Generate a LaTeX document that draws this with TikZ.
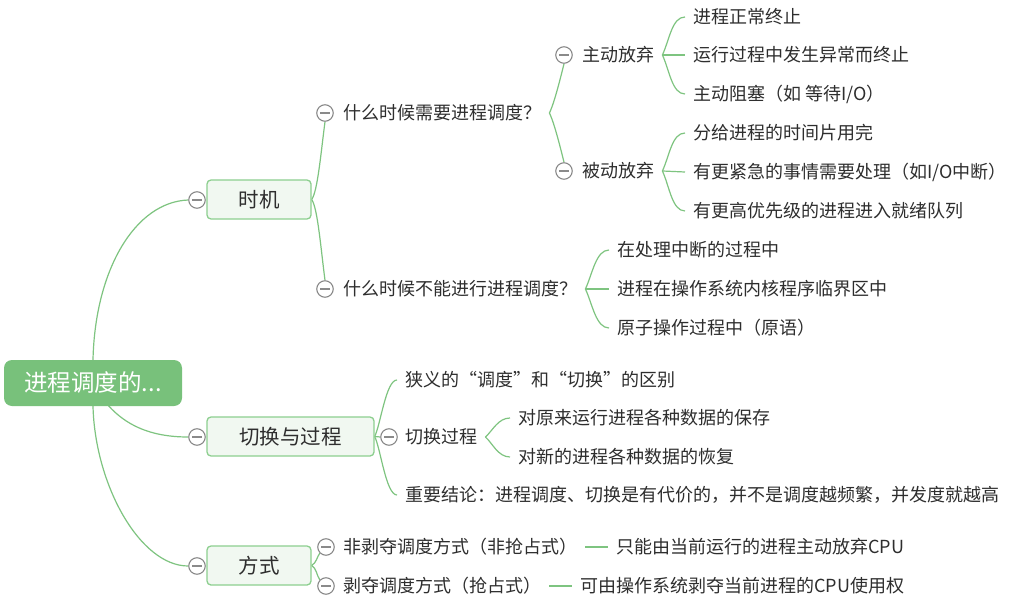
\documentclass[tikz,border=0pt]{standalone}
\usepackage{fontspec}
\setmainfont{Noto Sans CJK SC}
\usetikzlibrary{backgrounds}
\definecolor{rootg}{HTML}{78C17B}
\definecolor{lineg}{HTML}{7EC480}
\definecolor{boxf}{HTML}{F1F8F1}
\definecolor{boxd}{HTML}{8DCF8F}
\definecolor{cgray}{HTML}{8A8A8A}
\definecolor{txt}{HTML}{2E2E2E}
\newcommand{\cjklq}{\makebox[1em][r]{“}}
\newcommand{\cjkrq}{\makebox[1em][l]{”}}
\begin{document}
\begin{tikzpicture}[x=1pt,y=-1pt,
  conn/.style={draw=lineg, line width=1.2pt},
  rootbox/.style={rectangle, rounded corners=8pt, fill=rootg, text=white, font=\fontsize{23.5}{28}\selectfont, minimum width=178pt, minimum height=46pt, inner sep=0pt, text height=20.7pt, text depth=2.8pt},
  topicbox/.style={rectangle, rounded corners=4pt, fill=boxf, draw=boxd, line width=1.3pt, text=txt, font=\fontsize{20.5}{24}\selectfont, minimum height=39pt, inner sep=0pt, text height=18pt, text depth=2.5pt},
  lbl/.style={anchor=west, text=txt, font=\fontsize{18}{22}\selectfont, inner xsep=8pt, inner ysep=2pt, text height=15.84pt, text depth=2.16pt},
  fold/.style={circle, draw=cgray, line width=1.1pt, fill=white, minimum size=16.5pt, inner sep=0pt,
    path picture={\draw[cgray, line width=1.1pt] ([xshift=-5pt]path picture bounding box.center) -- ([xshift=5pt]path picture bounding box.center);}},
]
\useasboundingbox (0,0) rectangle (1012,607);

% root and main topics
\node[rootbox] (root) at (93,383) {进程调度的...};
\node[topicbox, minimum width=104pt] (t1) at (259,199.5) {时机};
\node[topicbox, minimum width=167pt] (t2) at (290.5,436.5) {切换与过程};
\node[topicbox, minimum width=104pt] (t3) at (259,565.5) {方式};
\node[fold] (c1) at (197,200) {};
\node[fold] (c2) at (197,437) {};
\node[fold] (c3) at (197,566) {};

% 时机
\node[fold] (cq1) at (325,113) {};
\node[lbl] (q1) at (335,113) {什么时候需要进程调度？};
\node[fold] (cq2) at (325,289) {};
\node[lbl] (q2) at (335,289) {什么时候不能进行进程调度？};
\node[fold] (czd) at (564,55) {};
\node[lbl] (zd) at (574,55) {主动放弃};
\node[fold] (cbd) at (564,171) {};
\node[lbl] (bd) at (574,171) {被动放弃};
\node[lbl] (a1) at (685,17) {进程正常终止};
\node[lbl] (a2) at (685,55) {运行过程中发生异常而终止};
\node[lbl] (a3) at (685,94) {主动阻塞（如 等待I/O）};
\node[lbl] (b1) at (685,133) {分给进程的时间片用完};
\node[lbl] (b2) at (685,172) {有更紧急的事情需要处理（如I/O中断）};
\node[lbl] (b3) at (685,211) {有更高优先级的进程进入就绪队列};
\node[lbl] (d1) at (609,250) {在处理中断的过程中};
\node[lbl] (d2) at (609,289) {进程在操作系统内核程序临界区中};
\node[lbl] (d3) at (609,328) {原子操作过程中（原语）};

% 切换与过程
\node[lbl] (x1) at (397,380) {狭义的\cjklq 调度\cjkrq 和\cjklq 切换\cjkrq 的区别};
\node[fold] (cqh) at (389,437) {};
\node[lbl] (qh) at (397,437) {切换过程};
\node[lbl] (s1) at (510,418) {对原来运行进程各种数据的保存};
\node[lbl] (s2) at (510,457) {对新的进程各种数据的恢复};
\node[lbl] (x3) at (397,495) {重要结论：进程调度、切换是有代价的，并不是调度越频繁，并发度就越高};

% 方式
\node[fold] (cf1) at (326,547) {};
\node[lbl] (f1) at (335,547) {非剥夺调度方式（非抢占式）};
\node[lbl] (g1) at (608,547) {只能由当前运行的进程主动放弃CPU};
\node[fold] (cf2) at (326,586) {};
\node[lbl] (f2) at (335,586) {剥夺调度方式（抢占式）};
\node[lbl] (g2) at (572,586) {可由操作系统剥夺当前进程的CPU使用权};

\begin{scope}[on background layer]
\fill[white] (0,0) rectangle (1012,607);
% root connectors
\draw[conn] (root.north) .. controls (95,270) and (135,202) .. (c1.west);
\draw[conn] (root.center) .. controls (115,425) and (150,437) .. (c2.west);
\draw[conn] (root.south) .. controls (95,485) and (140,566) .. (c3.west);
% 时机
\draw[conn] (t1.east) .. controls +(6,-8) and +(-4,30) .. (cq1.south);
\draw[conn] (t1.east) .. controls +(6,8) and +(-4,-30) .. (cq2.north);
\draw[conn] (q1.east) .. controls +(5,-10) and +(-3,12) .. (czd.south);
\draw[conn] (q1.east) .. controls +(5,10) and +(-3,-12) .. (cbd.north);
\draw[conn] (zd.east) .. controls +(7,-15) and +(-13,0) .. (a1.west);
\draw[conn] (zd.east) -- (a2.west);
\draw[conn] (zd.east) .. controls +(7,15) and +(-13,0) .. (a3.west);
\draw[conn] (bd.east) .. controls +(7,-15) and +(-13,0) .. (b1.west);
\draw[conn] (bd.east) -- (b2.west);
\draw[conn] (bd.east) .. controls +(7,15) and +(-13,0) .. (b3.west);
\draw[conn] (q2.east) .. controls +(7,-15) and +(-13,0) .. (d1.west);
\draw[conn] (q2.east) -- (d2.west);
\draw[conn] (q2.east) .. controls +(7,15) and +(-13,0) .. (d3.west);
% 切换与过程
\draw[conn] (t2.east) .. controls +(6,-12) and +(-11,0) .. (x1.west);
\draw[conn] (t2.east) -- (cqh.west);
\draw[conn] (t2.east) .. controls +(6,12) and +(-11,0) .. (x3.west);
\draw[conn] (qh.east) .. controls +(7,-6) and +(-12,0) .. (s1.west);
\draw[conn] (qh.east) .. controls +(7,6) and +(-12,0) .. (s2.west);
% 方式
\draw[conn] (t3.east) .. controls +(5,-3) and +(-3,4) .. (cf1.south west);
\draw[conn] (t3.east) .. controls +(5,3) and +(-3,-4) .. (cf2.north west);
\draw[conn] (f1.east) -- (g1.west);
\draw[conn] (f2.east) -- (g2.west);
\end{scope}
\end{tikzpicture}
\end{document}
